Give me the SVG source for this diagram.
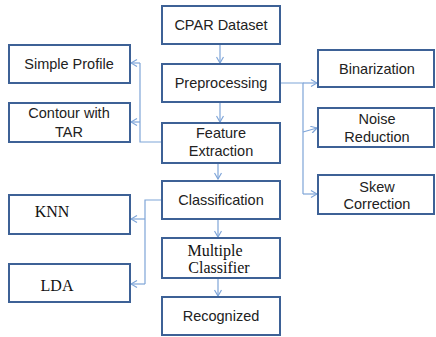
<svg xmlns="http://www.w3.org/2000/svg" width="436" height="337" viewBox="0 0 436 337">
<style>
.box{fill:#fff;stroke:#3d6196;stroke-width:2}
.t{font-family:"Liberation Sans",Arial,sans-serif;font-size:14.5px;fill:#222;text-anchor:middle;dominant-baseline:central}
.s{font-family:"Liberation Serif","Times New Roman",serif;font-size:16px;fill:#111;text-anchor:middle;dominant-baseline:central}
.c{fill:none;stroke:#7fa5d8;stroke-width:1.2}
</style>
<defs>
<marker id="a" markerWidth="8" markerHeight="8" refX="7" refY="4" orient="auto" markerUnits="userSpaceOnUse">
<path d="M1,0.5 L7,4 L1,7.5" fill="none" stroke="#7fa5d8" stroke-width="1.2"/>
</marker>
</defs>
<rect width="436" height="337" fill="#fff"/>
<g id="connectors">
<line class="c" x1="220" y1="44" x2="220" y2="63" marker-end="url(#a)"/>
<line class="c" x1="220" y1="102" x2="220" y2="122" marker-end="url(#a)"/>
<line class="c" x1="218" y1="163" x2="218" y2="179" marker-end="url(#a)"/>
<line class="c" x1="218" y1="219" x2="218" y2="237" marker-end="url(#a)"/>
<line class="c" x1="218" y1="278" x2="218" y2="296" marker-end="url(#a)"/>
<path class="c" d="M280,83 H303 V194"/>
<line class="c" x1="303" y1="83" x2="317" y2="83" marker-end="url(#a)"/>
<line class="c" x1="303" y1="132" x2="317" y2="128" marker-end="url(#a)"/>
<line class="c" x1="303" y1="194" x2="317" y2="194" marker-end="url(#a)"/>
<path class="c" d="M162,142 H140 V63"/>
<line class="c" x1="140" y1="63" x2="131" y2="63" marker-end="url(#a)"/>
<line class="c" x1="140" y1="122" x2="131" y2="122" marker-end="url(#a)"/>
<path class="c" d="M162,200 H145 V284"/>
<line class="c" x1="145" y1="219" x2="131" y2="219" marker-end="url(#a)"/>
<line class="c" x1="145" y1="284" x2="131" y2="284" marker-end="url(#a)"/>
</g>
<g id="cpar"><rect class="box" x="162" y="6" width="118" height="38"/><text class="t" x="221" y="25">CPAR Dataset</text></g>
<g id="pre"><rect class="box" x="162" y="64" width="118" height="38"/><text class="t" x="221" y="83">Preprocessing</text></g>
<g id="feat"><rect class="box" x="162" y="123" width="118" height="40"/><text class="t" x="221" y="133">Feature</text><text class="t" x="221" y="151">Extraction</text></g>
<g id="cls"><rect class="box" x="162" y="181" width="118" height="38"/><text class="t" x="221" y="200">Classification</text></g>
<g id="multi"><rect class="box" x="162" y="238" width="118" height="40"/><text class="s" x="215" y="250">Multiple</text><text class="s" x="219" y="267">Classifier</text></g>
<g id="rec"><rect class="box" x="162" y="297" width="118" height="38"/><text class="t" x="221" y="316">Recognized</text></g>
<g id="simple"><rect class="box" x="9" y="45" width="121" height="38"/><text class="t" x="69" y="64">Simple Profile</text></g>
<g id="contour"><rect class="box" x="9" y="103" width="121" height="39"/><text class="t" x="69" y="113">Contour with</text><text class="t" x="69" y="132">TAR</text></g>
<g id="knn"><rect class="box" x="9" y="195" width="121" height="39"/><text class="s" x="52" y="211">KNN</text></g>
<g id="lda"><rect class="box" x="9" y="264" width="121" height="38"/><text class="s" x="57" y="285">LDA</text></g>
<g id="bin"><rect class="box" x="318" y="50" width="116" height="37"/><text class="t" x="377" y="69">Binarization</text></g>
<g id="noise"><rect class="box" x="318" y="108" width="116" height="39"/><text class="t" x="377" y="119">Noise</text><text class="t" x="377" y="137">Reduction</text></g>
<g id="skew"><rect class="box" x="318" y="175" width="116" height="39"/><text class="t" x="377" y="187">Skew</text><text class="t" x="377" y="204">Correction</text></g>
</svg>
